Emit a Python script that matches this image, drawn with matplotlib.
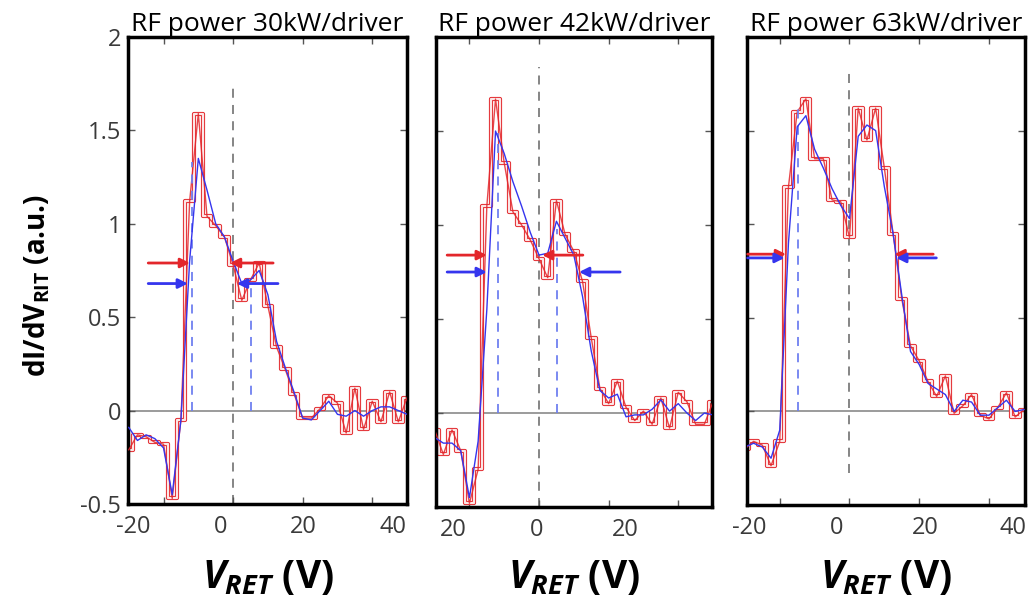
"""
plot.py - dI/dV_RIT retarding-field curves at three RF power levels.
Writes out.png (1031 x 607 px).
"""
import matplotlib
matplotlib.use("Agg")
import matplotlib.pyplot as plt
import matplotlib.patheffects as pe

# ── data ─────────────────────────────────────────────────────────────────────
V_RET = [-30, -27.5, -25, -22.5, -20, -17.5, -15, -12.5, -10, -7.5, -5, -2.5,
         0, 2.5, 5, 7.5, 10, 12.5, 15, 17.5, 20, 22.5, 25, 27.5, 30, 32.5,
         35, 37.5, 40, 42.5, 45, 47.5, 50]

RAW_30 = [-0.21, -0.13, -0.14, -0.17, -0.18, -0.47, -0.05, 1.12, 1.59, 1.04,
          0.99, 0.93, 0.78, 0.59, 0.70, 0.79, 0.56, 0.34, 0.22, 0.09, -0.04,
          -0.04, 0.01, 0.08, 0.04, -0.12, 0.12, -0.10, 0.05, -0.06, 0.10,
          -0.06, 0.07]
SMOOTH_30 = [-0.09, -0.16, -0.13, -0.15, -0.20, -0.45, -0.05, 0.80, 1.35, 1.18,
             1.00, 0.93, 0.80, 0.68, 0.70, 0.75, 0.62, 0.37, 0.23, 0.10, -0.04,
             -0.05, 0.00, 0.05, -0.02, -0.03, 0.00, -0.03, 0.00, 0.02, 0.02,
             0.00, -0.02]

RAW_42 = [-0.09, -0.22, -0.09, -0.20, -0.48, -0.30, 1.10, 1.67, 1.33, 1.07,
          1.00, 0.92, 0.82, 0.72, 1.13, 0.95, 0.86, 0.70, 0.40, 0.13, 0.05,
          0.17, 0.03, -0.04, 0.01, -0.06, 0.08, -0.08, 0.11, 0.06, -0.06,
          -0.06, 0.06]
SMOOTH_42 = [-0.13, -0.16, -0.16, -0.20, -0.45, -0.15, 0.55, 1.50, 1.38, 1.23,
             1.10, 0.96, 0.84, 0.85, 1.02, 0.93, 0.84, 0.62, 0.33, 0.12, 0.08,
             0.10, -0.02, -0.01, -0.01, 0.02, 0.07, 0.01, 0.05, 0.00, -0.04,
             0.00, -0.01]

RAW_63 = [-0.20, -0.16, -0.18, -0.29, -0.16, 1.20, 1.60, 1.67, 1.35, 1.35,
          1.13, 1.12, 0.93, 1.62, 1.45, 1.62, 1.30, 0.95, 0.60, 0.35, 0.27,
          0.16, 0.08, 0.19, -0.01, 0.03, 0.09, -0.02, -0.04, 0.02, 0.10,
          -0.03, 0.01]
SMOOTH_63 = [-0.19, -0.17, -0.19, -0.25, -0.10, 0.90, 1.52, 1.58, 1.40, 1.30,
             1.19, 1.10, 1.03, 1.47, 1.53, 1.50, 1.20, 0.95, 0.62, 0.32, 0.25,
             0.15, 0.12, 0.09, 0.00, 0.06, 0.05, -0.02, -0.02, 0.02, 0.06,
             0.00, 0.01]

TITLES = ["RF power 30kW/driver", "RF power 42kW/driver", "RF power 63kW/driver"]
RAWS = [RAW_30, RAW_42, RAW_63]
SMOOTHS = [SMOOTH_30, SMOOTH_42, SMOOTH_63]

# arrow levels and (tail, tip) positions in V
RED_LEVEL = [0.79, 0.84, 0.84]
BLUE_LEVEL = [0.68, 0.75, 0.82]
RED_ARROWS = [[(-24.4, -12.4), (11.5, -0.9)],
              [(-26.4, -15.0), (12.6, 0.9)],
              [(-29.2, -18.2), (24.0, 12.9)]]
BLUE_ARROWS = [[(-24.4, -13.0), (12.9, 1.1)],
               [(-26.4, -15.0), (23.3, 11.5)],
               [(-29.2, -18.6), (24.9, 13.4)]]

# blue dashed markers (V, top) and grey dashed line (V, bottom, top)
BLUE_MARKS = [[(-11.8, 1.33), (5.1, 0.68)],
              [(-11.8, 1.49), (5.2, 0.98)],
              [(-14.8, 1.62)]]
GREY_MARK = [(0, -0.5, 1.74), (0, -0.5, 1.84), (0, -0.33, 1.82)]

# tick marks and (offset) tick labels as they appear in the figure
XTICK_MARKS = [-20, 0, 20, 40]
XLABEL_POS = [[-28.7, -3.7, 20.1, 46.0], [-24.7, -0.6, 24.7],
              [-28.7, -3.7, 21.6, 46.8]]
XLABELS = [["-20", "0", "20", "40"], ["20", "0", "20"],
           ["-20", "0", "20", "40"]]
YTICKS = [-0.5, 0, 0.5, 1, 1.5, 2]
YLABELS = ["-0.5", "0", "0.5", "1", "1.5", "2"]

# ── style ─────────────────────────────────────────────────────────────────────
RED = "#e3262b"
PINK = "#fbe6e6"
BLUE = "#3535ee"
BLUE_DASH = "#6f80f0"
GREY = "#7c7c7c"

plt.rcParams.update({
    "font.family": ["Open Sans", "DejaVu Sans"],
    "mathtext.fontset": "custom",
    "mathtext.rm": "Open Sans:bold",
    "mathtext.it": "Open Sans:italic:bold",
    "mathtext.bf": "Open Sans:bold",
})

AX_BOXES = [(0.1242, 0.1697, 0.2706, 0.7694),
            (0.4229, 0.1647, 0.2677, 0.7743),
            (0.7245, 0.1680, 0.2696, 0.7710)]
XLIMS = [(-30.2, 50.0), (-29.6, 49.7), (-29.4, 50.3)]

fig = plt.figure(figsize=(10.31, 6.07), dpi=100)

for i in range(3):
    ax = fig.add_axes(AX_BOXES[i])
    ax.set_xlim(XLIMS[i])
    ax.set_ylim(-0.5, 2)

    ax.axhline(0, color="#8a8a8a", lw=1.2, zorder=1)
    gx, glo, ghi = GREY_MARK[i]
    ax.vlines(gx, glo, ghi, colors=GREY, linestyles=(0, (5, 4)), lw=1.3, zorder=1)

    # raw data: outlined staircase + thin polyline
    ax.plot(V_RET, RAWS[i], drawstyle="steps-mid", color=PINK, lw=1.6, zorder=2,
            path_effects=[pe.Stroke(linewidth=3.0, foreground=RED), pe.Normal()])
    ax.plot(V_RET, RAWS[i], color=RED, lw=1.0, alpha=0.85, zorder=3)
    # smoothed data
    ax.plot(V_RET, SMOOTHS[i], color=BLUE, lw=1.0, zorder=4)

    for vx, top in BLUE_MARKS[i]:
        ax.vlines(vx, 0, top, colors=BLUE_DASH, linestyles=(0, (5, 4)), lw=1.3, zorder=3)

    for tail, tip in RED_ARROWS[i]:
        ax.annotate("", xy=(tip, RED_LEVEL[i]), xytext=(tail, RED_LEVEL[i]),
                    arrowprops=dict(arrowstyle="-|>", color=RED, lw=2.0,
                                    mutation_scale=14, shrinkA=0, shrinkB=0),
                    zorder=5)
    for tail, tip in BLUE_ARROWS[i]:
        ax.annotate("", xy=(tip, BLUE_LEVEL[i]), xytext=(tail, BLUE_LEVEL[i]),
                    arrowprops=dict(arrowstyle="-|>", color=BLUE, lw=2.0,
                                    mutation_scale=14, shrinkA=0, shrinkB=0),
                    zorder=5)

    ax.set_title(TITLES[i], fontsize=19, pad=4)

    ax.set_xticks(XTICK_MARKS, minor=True)
    ax.set_xticks(XLABEL_POS[i], XLABELS[i])
    ax.tick_params(axis="x", which="major", length=0, pad=8,
                   labelsize=17, labelcolor="#3a3a3a")
    ax.tick_params(axis="x", which="minor", direction="in", top=True,
                   bottom=True, length=5, width=1, color="#555555")
    ax.set_yticks(YTICKS, YLABELS)
    ax.tick_params(axis="y", direction="in", left=True, right=True, length=5,
                   width=1, color="#555555", labelsize=17, labelcolor="#3a3a3a",
                   labelleft=(i == 0), pad=5)
    for sp in ax.spines.values():
        sp.set_linewidth(2.5)

    cx = AX_BOXES[i][0] + AX_BOXES[i][2] / 2
    fig.text(cx, 0.048, r"$V_{RET}$ (V)", fontsize=28, fontweight="bold",
             ha="center", va="center")

fig.text(0.036, 0.529, r"dI/dV$_{\mathrm{RIT}}$ (a.u.)", fontsize=20,
         fontweight="bold", rotation=90, ha="center", va="center")

fig.savefig("out.png", dpi=100)
